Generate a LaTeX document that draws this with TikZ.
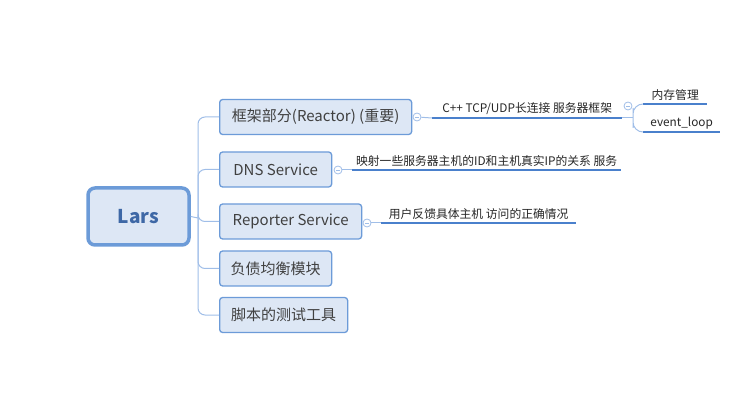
\documentclass[tikz,border=0pt]{standalone}
\usepackage{fontspec}
\setmainfont{Noto Sans CJK SC}
\usetikzlibrary{positioning}
\definecolor{boxFill}{RGB}{221,231,245}
\definecolor{boxLine}{RGB}{108,155,216}
\definecolor{rootText}{RGB}{62,104,166}
\definecolor{ulLine}{RGB}{74,128,204}
\definecolor{trunkLine}{RGB}{160,190,232}

\begin{document}
\begin{tikzpicture}[
    x=1pt, y=-1pt,
    rootbox/.style={draw=boxLine, fill=boxFill, line width=3.5pt, rounded corners=7pt, minimum width=101pt, minimum height=57pt, font=\fontsize{19}{22}\selectfont\bfseries, text=rootText},
    topic/.style={draw=boxLine, fill=boxFill, line width=1.3pt, rounded corners=3pt, minimum height=35pt, anchor=west, inner xsep=8pt, font=\fontsize{15}{17}\selectfont, text=black!75},
    sub/.style={anchor=south west, inner sep=0pt, minimum height=18pt, font=\fontsize{11.8}{14}\selectfont, text=black!85},
    uline/.style={draw=ulLine, line width=2.8pt},
    trunk/.style={draw=trunkLine, line width=1pt, rounded corners=7pt},
    collapse/.style={circle, draw=trunkLine, fill=white, line width=0.8pt, minimum size=8pt, inner sep=0pt,
        path picture={\draw[trunkLine, line width=0.7pt] ([xshift=-2pt]path picture bounding box.center) -- ([xshift=2pt]path picture bounding box.center);}}
]
    \useasboundingbox (0,0) rectangle (742,406);

    % root and main topics
    \node[rootbox] (lars) at (138.5,216.5) {Lars};
    \node[topic, minimum width=192pt] (reactor) at (219,117) {框架部分(Reactor) (重要)};
    \node[topic, minimum width=112pt] (dns) at (219,169.5) {DNS Service};
    \node[topic, minimum width=142pt] (reporter) at (219,221.5) {Reporter Service};
    \node[topic, minimum width=112pt] (balance) at (219,268.5) {负债均衡模块};
    \node[topic, minimum width=128pt] (script) at (219,315) {脚本的测试工具};

    % trunk
    \coordinate (fork) at (198,218);
    \draw[trunk] (lars.east) -- (fork);
    \draw[trunk] (reactor.west) -| (fork) |- (script.west);
    \draw[trunk] (fork) |- (dns.west);
    \draw[trunk] (fork) |- (reporter.west);
    \draw[trunk] (fork) |- (balance.west);

    % sub topics
    \node[sub, minimum width=190pt] (tcp) at (432,118) {C++ TCP/UDP长连接 服务器框架};
    \node[sub, minimum width=269pt] (idmap) at (352,170) {映射一些服务器主机的ID和主机真实IP的关系 服务};
    \node[sub, minimum width=195pt] (feedback) at (381,223) {用户反馈具体主机 访问的正确情况};
    \node[sub, minimum width=64pt] (mem) at (643,104) {内存管理};
    \node[sub, minimum width=77pt] (loop) at (643,132) {event\_loop};

    \foreach \n in {tcp, idmap, feedback, mem, loop}
        \draw[uline] (\n.south west) -- (\n.south east);

    % collapse buttons
    \node[collapse] (c1) at (417,117) {};
    \node[collapse] (c2) at (338,170) {};
    \node[collapse] (c3) at (367,223) {};
    \node[collapse] (c4) at (628,106) {};

    \draw[trunk] (c1) -- (tcp.south west);
    \draw[trunk] (c2) -- (idmap.south west);
    \draw[trunk] (c3) -- (feedback.south west);

    \coordinate (split) at (633,118);
    \draw[trunk] (tcp.south east) -- (split);
    \draw[trunk, rounded corners=10pt] (mem.south west) -| (split) |- (loop.south west);
\end{tikzpicture}
\end{document}
